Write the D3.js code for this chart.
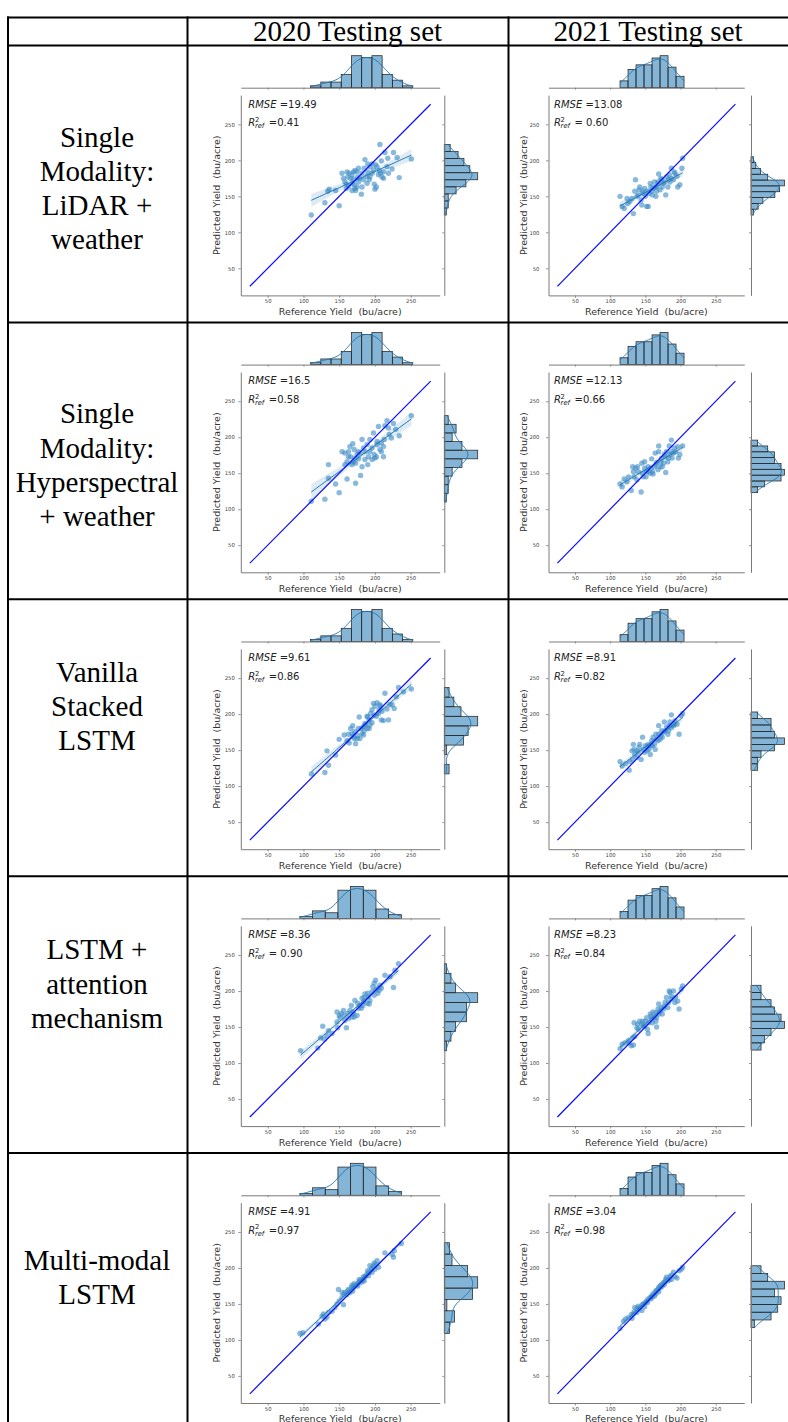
<!DOCTYPE html>
<html><head><meta charset="utf-8">
<script src="https://cdn.jsdelivr.net/npm/d3@7"></script>
<style>
html,body{margin:0;padding:0;background:#fff;}
svg{display:block;}
text{white-space:pre;}
</style></head><body>
<div id="chart"></div>
<script>
// ---------- DATA ----------
const columnTitles = ["2020 Testing set", "2021 Testing set"];
const rowLabels = [
  ["Single", "Modality:", "LiDAR +", "weather"],
  ["Single", "Modality:", "Hyperspectral", "+ weather"],
  ["Vanilla", "Stacked", "LSTM"],
  ["LSTM +", "attention", "mechanism"],
  ["Multi-modal", "LSTM"]
];
const axisTicks = [50, 100, 150, 200, 250];
const xAxisTitle = "Reference Yield  (bu/acre)";
const yAxisTitle = "Predicted Yield  (bu/acre)";
const rmseLabels = [["=19.49", "=13.08"], ["=16.5", "=12.13"], ["=9.61", "=8.91"], ["=8.36", "=8.23"], ["=4.91", "=3.04"]];
const r2Labels = [["=0.41", "= 0.60"], ["=0.58", "=0.66"], ["=0.86", "=0.82"], ["= 0.90", "=0.84"], ["=0.97", "=0.98"]];
const identityLine = [25, 278];

// scatter points [reference, predicted]
const lidar2020 = [[111,124],[130,141],[134,157],[136,160],[145,158],[150,137],[160,167],[162,177],[164,182],[166,175],[168,180],[170,184],[172,186],[173,158],[175,163],[176,177],[177,170],[179,175],[181,153],[182,163],[184,173],[186,201],[189,178],[190,184],[192,173],[193,191],[196,195],[196,182],[199,167],[200,160],[203,191],[205,180],[207,222],[208,182],[209,199],[210,177],[212,175],[214,211],[217,191],[218,203],[224,188],[226,211],[231,204],[234,176],[251,202],[154,182],[156,175],[158,170],[161,184],[163,164],[168,168],[170,174],[171,166],[175,184],[189,168],[193,177],[198,187],[201,194],[206,186],[212,184],[219,182],[202,163],[177,189],[182,182],[185,189],[160,161],[168,158],[172,161],[190,195]];
const hyper2020 = [[111,111],[130,114],[135,143],[135,162],[145,135],[150,123],[161,142],[173,136],[180,147],[182,159],[168,162],[170,166],[172,171],[163,180],[165,187],[169,191],[171,183],[175,176],[177,170],[179,178],[182,197],[184,185],[186,180],[189,190],[191,173],[193,180],[196,185],[198,206],[200,171],[202,173],[203,194],[205,215],[207,183],[209,180],[212,187],[214,216],[217,223],[219,213],[223,199],[226,219],[229,211],[234,202],[251,230],[163,173],[158,178],[161,166],[166,173],[173,164],[177,180],[186,169],[190,162],[196,169],[199,176],[203,190],[209,192],[213,197],[158,162],[154,180],[212,173],[220,204],[193,197]];
const vanilla2020 = [[111,117],[130,119],[133,149],[135,129],[145,143],[150,165],[161,163],[164,160],[173,159],[168,173],[170,169],[172,176],[175,166],[177,180],[178,196],[182,173],[184,183],[186,187],[189,180],[190,196],[192,192],[193,185],[196,206],[198,215],[200,211],[202,197],[203,216],[205,201],[207,213],[209,192],[210,204],[212,191],[214,229],[217,207],[219,192],[221,213],[224,213],[227,208],[230,224],[233,237],[251,235],[240,231],[163,172],[166,180],[171,166],[176,170],[181,180],[185,177],[187,185],[192,180],[196,188],[199,199],[206,206],[208,211],[189,197],[194,201],[157,171],[169,184],[179,166],[184,171]];
const attn2020 = [[96,117],[120,121],[127,151],[124,135],[129,133],[135,145],[140,141],[147,157],[148,149],[150,166],[153,169],[158,159],[160,149],[162,169],[165,173],[168,164],[170,171],[172,187],[175,166],[177,176],[179,180],[182,190],[184,185],[186,196],[189,183],[191,192],[193,187],[196,199],[197,206],[199,211],[201,215],[203,204],[204,197],[206,201],[214,222],[221,220],[226,205],[233,238],[228,229],[147,171],[151,163],[156,173],[163,162],[167,180],[171,164],[176,183],[181,176],[183,180],[185,191],[190,197],[192,182],[199,194],[201,201],[207,208],[209,204],[133,138],[157,166],[169,168]];
const multi2020 = [[95,109],[99,110],[121,122],[126,133],[128,136],[130,129],[135,138],[147,150],[149,170],[150,154],[154,159],[156,149],[158,166],[161,163],[163,170],[165,166],[168,176],[169,168],[170,173],[172,175],[175,177],[177,180],[178,184],[179,182],[182,184],[184,188],[185,182],[186,187],[189,192],[190,196],[191,189],[193,203],[195,198],[196,194],[198,203],[199,207],[201,205],[203,210],[205,201],[214,221],[224,219],[226,215],[227,224],[237,234],[154,166],[157,163],[162,168],[167,173],[171,178],[176,175],[181,180],[183,183],[187,189],[192,194],[196,200],[200,198],[133,132],[140,140],[144,145]];
const lidar2021 = [[114,150],[117,136],[120,133],[125,140],[128,143],[133,126],[136,173],[138,150],[140,152],[142,163],[145,138],[146,157],[149,161],[150,150],[152,136],[154,136],[155,154],[158,163],[159,157],[161,161],[163,170],[165,150],[166,163],[169,181],[169,168],[171,159],[173,173],[174,163],[177,170],[179,152],[180,177],[182,163],[184,180],[185,170],[187,189],[190,173],[192,182],[196,163],[199,166],[202,189],[203,203],[131,147],[135,157],[141,159],[147,154],[153,157],[157,168],[164,163],[168,170],[172,175],[176,168],[183,173],[187,175],[191,184],[195,178],[160,152],[166,157],[144,145],[124,147]];
const hyper2021 = [[114,135],[117,131],[120,142],[126,145],[130,126],[132,159],[134,145],[136,157],[138,141],[140,152],[144,124],[145,164],[146,150],[149,157],[151,145],[152,152],[154,159],[157,150],[159,170],[160,152],[161,149],[164,178],[166,165],[169,180],[169,188],[171,159],[173,171],[176,164],[177,176],[179,151],[180,180],[182,166],[184,188],[185,176],[187,196],[188,171],[191,185],[193,180],[196,187],[197,171],[199,176],[203,188],[139,159],[149,166],[154,152],[163,159],[168,155],[172,166],[174,159],[178,173],[183,171],[187,180],[190,178],[158,157],[165,162],[124,138],[133,152],[147,145]];
const vanilla2021 = [[114,134],[117,128],[122,131],[127,122],[128,134],[131,149],[133,158],[132,137],[135,144],[138,149],[140,147],[142,158],[144,137],[146,168],[147,151],[150,156],[152,149],[154,158],[155,151],[158,156],[159,163],[161,168],[163,158],[165,172],[166,165],[169,184],[169,172],[171,165],[173,177],[174,168],[177,189],[178,177],[180,182],[182,172],[184,184],[185,189],[187,199],[190,184],[192,191],[195,186],[198,172],[201,198],[203,201],[134,151],[141,154],[149,147],[153,154],[160,156],[168,163],[172,170],[176,175],[183,177],[187,181],[191,186],[157,144],[164,151],[138,140]];
const attn2021 = [[114,120],[117,126],[121,128],[126,131],[130,124],[132,135],[133,125],[135,137],[134,156],[138,149],[140,147],[142,158],[145,154],[147,151],[150,158],[152,163],[153,147],[155,156],[157,168],[159,161],[161,171],[163,164],[165,170],[166,163],[168,175],[169,182],[171,172],[173,177],[174,168],[177,179],[178,184],[180,191],[182,177],[184,200],[185,198],[187,189],[190,200],[192,184],[196,186],[198,175],[201,203],[203,207],[154,141],[166,150],[139,154],[146,158],[158,165],[165,158],[169,168],[176,175],[183,184],[187,193],[193,191],[149,151],[160,156],[127,128]];
const multi2021 = [[114,116],[119,126],[122,129],[126,131],[130,135],[133,136],[135,145],[138,143],[140,147],[142,145],[145,141],[147,150],[150,152],[152,154],[154,157],[157,159],[159,161],[161,164],[164,167],[166,169],[168,170],[169,173],[171,175],[173,177],[176,180],[178,181],[180,187],[182,182],[184,184],[187,190],[190,194],[192,188],[195,186],[198,196],[201,198],[203,201],[131,130],[138,138],[141,143],[149,146],[153,152],[158,157],[163,161],[165,164],[169,167],[172,173],[177,177],[179,184],[185,188],[187,184],[134,139],[146,149],[160,160],[174,175]];

// marginal histograms: bin range and counts
const refRange2020A = [110, 253];
const refCounts2020A = [1, 3, 3, 7, 17, 16, 17, 7, 4, 1];
const refRange2020B = [95, 237];
const refCounts2020B = [1, 4, 3, 15, 17, 15, 5, 2];
const refRange2021 = [114, 205];
const refCounts2021 = [3, 8, 10, 10, 13, 14, 9, 5];

const predRangeLidar2020 = [124, 222];
const predCountsLidar2020 = [1, 2, 2, 6, 11, 17, 13, 10, 7, 3];
const predRangeHyper2020 = [110, 230];
const predCountsHyper2020 = [1, 2, 2, 4, 9, 17, 9, 4, 6, 2];
const predRangeVanilla2020 = [117, 237];
const predCountsVanilla2020 = [2, 0, 1, 8, 10, 14, 7, 4, 2];
const predRangeAttn2020 = [117, 238];
const predCountsAttn2020 = [1, 3, 5, 10, 10, 15, 5, 3, 1];
const predRangeMulti2020 = [109, 235];
const predCountsMulti2020 = [2, 4, 1, 11, 13, 9, 3, 2];
const predRangeLidar2021 = [124, 205];
const predCountsLidar2021 = [1, 3, 5, 10, 12, 14, 7, 4, 2, 1];
const predRangeHyper2021 = [123, 196];
const predCountsHyper2021 = [2, 4, 9, 10, 9, 7, 7, 5, 2];
const predRangeVanilla2021 = [122, 203];
const predCountsVanilla2021 = [2, 2, 3, 7, 10, 7, 6, 6, 2];
const predRangeAttn2021 = [118, 208];
const predCountsAttn2021 = [3, 4, 6, 10, 9, 7, 6, 3, 3];
const predRangeMulti2021 = [117, 203];
const predCountsMulti2021 = [1, 6, 8, 9, 7, 10, 5, 3];

// ---------- ASSEMBLY ----------
const panels = [
  [{pts: lidar2020, top: [refRange2020A, refCounts2020A], right: [predRangeLidar2020, predCountsLidar2020]},
   {pts: lidar2021, top: [refRange2021, refCounts2021], right: [predRangeLidar2021, predCountsLidar2021]}],
  [{pts: hyper2020, top: [refRange2020A, refCounts2020A], right: [predRangeHyper2020, predCountsHyper2020]},
   {pts: hyper2021, top: [refRange2021, refCounts2021], right: [predRangeHyper2021, predCountsHyper2021]}],
  [{pts: vanilla2020, top: [refRange2020A, refCounts2020A], right: [predRangeVanilla2020, predCountsVanilla2020]},
   {pts: vanilla2021, top: [refRange2021, refCounts2021], right: [predRangeVanilla2021, predCountsVanilla2021]}],
  [{pts: attn2020, top: [refRange2020B, refCounts2020B], right: [predRangeAttn2020, predCountsAttn2020]},
   {pts: attn2021, top: [refRange2021, refCounts2021], right: [predRangeAttn2021, predCountsAttn2021]}],
  [{pts: multi2020, top: [refRange2020B, refCounts2020B], right: [predRangeMulti2020, predCountsMulti2020]},
   {pts: multi2021, top: [refRange2021, refCounts2021], right: [predRangeMulti2021, predCountsMulti2021]}]
];

const W = 788, H = 1422;
const row0 = 45.5, rowH = 276.9;
const C0 = "#1f77b4";
const FONT = "DejaVu Sans";
const SERIF = "Liberation Serif";
const cols = [
  {x0: 240.8, x1: 439.7, rs: 444.3, ylx: 216.7, gap: 6, tx: 7.5},
  {x0: 548.5, x1: 744.3, rs: 751.0, ylx: 523.7, gap: 9, tx: 5.5}
];
const axisDomain = [12.35, 290.65];

const svg = d3.select("#chart").append("svg").attr("width", W).attr("height", H)
  .attr("font-family", FONT);

function kdeFromBins(range, counts) {
  const [lo, hi] = range, k = counts.length, w = (hi - lo) / k;
  const centers = counts.map((c, i) => lo + (i + 0.5) * w);
  const n = d3.sum(counts);
  const mean = d3.sum(counts, (c, i) => c * centers[i]) / n;
  const v = d3.sum(counts, (c, i) => c * (centers[i] - mean) ** 2) / (n - 1) + w * w / 12;
  const h0 = Math.sqrt(v) * Math.pow(n, -0.2);
  const h = Math.sqrt(h0 * h0 + w * w / 12);
  return d3.range(0, 121).map(j => {
    const t = lo + (hi - lo) * j / 120;
    let s = 0;
    counts.forEach((c, i) => { const z = (t - centers[i]) / h; s += c * Math.exp(-0.5 * z * z); });
    return [t, s / (h * Math.sqrt(2 * Math.PI)) * w];
  });
}

function regression(pts) {
  const n = pts.length;
  const mx = d3.mean(pts, d => d[0]), my = d3.mean(pts, d => d[1]);
  const sxx = d3.sum(pts, d => (d[0] - mx) ** 2);
  const sxy = d3.sum(pts, d => (d[0] - mx) * (d[1] - my));
  const b = sxy / sxx, a = my - b * mx;
  const s = Math.sqrt(d3.sum(pts, d => (d[1] - a - b * d[0]) ** 2) / (n - 2));
  const [xmin, xmax] = d3.extent(pts, d => d[0]);
  return d3.range(0, 61).map(j => {
    const xv = xmin + (xmax - xmin) * j / 60;
    const yh = a + b * xv;
    const se = 1.99 * s * Math.sqrt(1 / n + (xv - mx) ** 2 / sxx);
    return {x: xv, y: yh, lo: yh - se, hi: yh + se};
  });
}

function styleAxis(g) {
  g.attr("font-family", FONT).attr("font-size", null);
  g.selectAll(".domain").attr("stroke", "#7a7a7a").attr("stroke-width", 1);
  g.selectAll(".tick line").attr("stroke", "#7a7a7a").attr("stroke-width", 0.8);
  g.selectAll(".tick text").attr("fill", "#444").attr("font-size", 5.3);
}

panels.forEach((rowPanels, r) => {
  const top = row0 + r * rowH;
  rowPanels.forEach((p, c) => {
    const g = cols[c];
    const x = d3.scaleLinear().domain(axisDomain).range([g.x0, g.x1]);
    const y = d3.scaleLinear().domain(axisDomain).range([top + 249.9, top + 49.6]);
    const pg = svg.append("g");

    // ---- top marginal histogram ----
    const [tRange, tCounts] = p.top;
    const tw = (tRange[1] - tRange[0]) / tCounts.length;
    const tk = kdeFromBins(tRange, tCounts);
    const tMax = Math.max(d3.max(tCounts), d3.max(tk, d => d[1]));
    const yT = d3.scaleLinear().domain([0, tMax]).range([top + 42.2, top + 10.2]);
    pg.append("g").selectAll("rect").data(tCounts.map((cnt, i) => ({cnt, i})).filter(d => d.cnt > 0))
      .join("rect")
      .attr("x", d => x(tRange[0] + d.i * tw))
      .attr("width", d => x(tRange[0] + (d.i + 1) * tw) - x(tRange[0] + d.i * tw))
      .attr("y", d => yT(d.cnt))
      .attr("height", d => yT(0) - yT(d.cnt))
      .attr("fill", C0).attr("fill-opacity", 0.55)
      .attr("stroke", "#262626").attr("stroke-width", 0.75);
    pg.append("path").datum(tk)
      .attr("d", d3.line().x(d => x(d[0])).y(d => yT(d[1])))
      .attr("fill", "none").attr("stroke", C0).attr("stroke-width", 1);
    const topAx = pg.append("g").attr("transform", `translate(0,${top + 42.2})`)
      .call(d3.axisBottom(x).tickValues(axisTicks).tickFormat("").tickSize(2).tickSizeOuter(0));
    styleAxis(topAx);

    // ---- right marginal histogram ----
    const [rRange, rCounts] = p.right;
    const rw = (rRange[1] - rRange[0]) / rCounts.length;
    const rk = kdeFromBins(rRange, rCounts);
    const rMax = Math.max(d3.max(rCounts), d3.max(rk, d => d[1]));
    const xR = d3.scaleLinear().domain([0, rMax]).range([g.rs, g.rs + 33.4]);
    pg.append("g").selectAll("rect").data(rCounts.map((cnt, i) => ({cnt, i})).filter(d => d.cnt > 0))
      .join("rect")
      .attr("x", xR(0))
      .attr("width", d => xR(d.cnt) - xR(0))
      .attr("y", d => y(rRange[0] + (d.i + 1) * rw))
      .attr("height", d => y(rRange[0] + d.i * rw) - y(rRange[0] + (d.i + 1) * rw))
      .attr("fill", C0).attr("fill-opacity", 0.55)
      .attr("stroke", "#262626").attr("stroke-width", 0.75);
    pg.append("path").datum(rk)
      .attr("d", d3.line().x(d => xR(d[1])).y(d => y(d[0])))
      .attr("fill", "none").attr("stroke", C0).attr("stroke-width", 1);
    const rightAx = pg.append("g").attr("transform", `translate(${g.rs},0)`)
      .call(d3.axisLeft(y).tickValues(axisTicks).tickFormat("").tickSize(2).tickSizeOuter(0));
    styleAxis(rightAx);

    // ---- main axes ----
    const xAx = pg.append("g").attr("transform", `translate(0,${top + 249.9})`)
      .call(d3.axisBottom(x).tickValues(axisTicks).tickSize(2.5).tickPadding(1.8).tickSizeOuter(0));
    styleAxis(xAx);
    const yAx = pg.append("g").attr("transform", `translate(${g.x0},0)`)
      .call(d3.axisLeft(y).tickValues(axisTicks).tickSize(2.5).tickPadding(g.gap - 2.5).tickSizeOuter(0));
    styleAxis(yAx);

    // scatter
    pg.append("g").selectAll("circle").data(p.pts).join("circle")
      .attr("cx", d => x(d[0])).attr("cy", d => y(d[1])).attr("r", 2.7)
      .attr("fill", "#3a8ac4").attr("fill-opacity", 0.6);

    // regression with CI band
    const reg = regression(p.pts);
    pg.append("path").datum(reg)
      .attr("d", d3.area().x(d => x(d.x)).y0(d => y(d.lo)).y1(d => y(d.hi)))
      .attr("fill", C0).attr("fill-opacity", 0.15);
    pg.append("path").datum(reg)
      .attr("d", d3.line().x(d => x(d.x)).y(d => y(d.y)))
      .attr("fill", "none").attr("stroke", C0).attr("stroke-width", 1);

    // identity line
    pg.append("line")
      .attr("x1", x(identityLine[0])).attr("y1", y(identityLine[0]))
      .attr("x2", x(identityLine[1])).attr("y2", y(identityLine[1]))
      .attr("stroke", "#0a0aff").attr("stroke-width", 1.2);

    // axis titles
    pg.append("text").attr("x", (g.x0 + g.x1) / 2).attr("y", top + 269.3)
      .attr("text-anchor", "middle").attr("fill", "#333").attr("font-size", 9.5).text(xAxisTitle);
    pg.append("text")
      .attr("transform", `translate(${g.ylx},${top + 149.75}) rotate(-90)`)
      .attr("text-anchor", "middle").attr("dominant-baseline", "central")
      .attr("fill", "#333").attr("font-size", 9.5).text(yAxisTitle);

    // stats text
    const tx = g.x0 + g.tx;
    const t1 = pg.append("text").attr("x", tx).attr("y", top + 62).attr("fill", "#222").attr("font-size", 10);
    t1.append("tspan").attr("font-style", "italic").text("RMSE");
    t1.append("tspan").text(" " + rmseLabels[r][c]);
    const base2 = top + 80.5;
    pg.append("text").attr("x", tx).attr("y", base2).attr("fill", "#222")
      .attr("font-size", 10).attr("font-style", "italic").text("R");
    pg.append("text").attr("x", tx + 6.6).attr("y", base2 - 4.2).attr("fill", "#222")
      .attr("font-size", 6.8).text("2");
    pg.append("text").attr("x", tx + 6.6).attr("y", base2 + 2.4).attr("fill", "#222")
      .attr("font-size", 6.8).attr("font-style", "italic").text("ref");
    pg.append("text").attr("x", tx + 20.5).attr("y", base2).attr("fill", "#222")
      .attr("font-size", 10).text(r2Labels[r][c]);
  });

  // row label (serif)
  const firstCenter = [91.5, 91.5, 73, 73.5, 107][r];
  rowLabels[r].forEach((line, i) => {
    svg.append("text").attr("x", 97).attr("y", top + firstCenter + i * 34.3 + 9.5)
      .attr("text-anchor", "middle").attr("font-family", SERIF).attr("font-size", 29)
      .attr("fill", "#000").text(line);
  });
});

// header
[347.5, 648].forEach((cx, i) => {
  svg.append("text").attr("x", cx).attr("y", 41).attr("text-anchor", "middle")
    .attr("font-family", SERIF).attr("font-size", 29).attr("fill", "#000").text(columnTitles[i]);
});

// table grid
const grid = svg.append("g").attr("stroke", "#000").attr("stroke-width", 2);
const hLines = [17.5, row0].concat(d3.range(1, 5).map(i => row0 + i * rowH));
hLines.forEach(yy => grid.append("line").attr("x1", 7).attr("x2", W).attr("y1", yy).attr("y2", yy));
[8, 187.5, 508.5].forEach(xx => grid.append("line").attr("x1", xx).attr("x2", xx).attr("y1", 16.5).attr("y2", H));
</script></body></html>
